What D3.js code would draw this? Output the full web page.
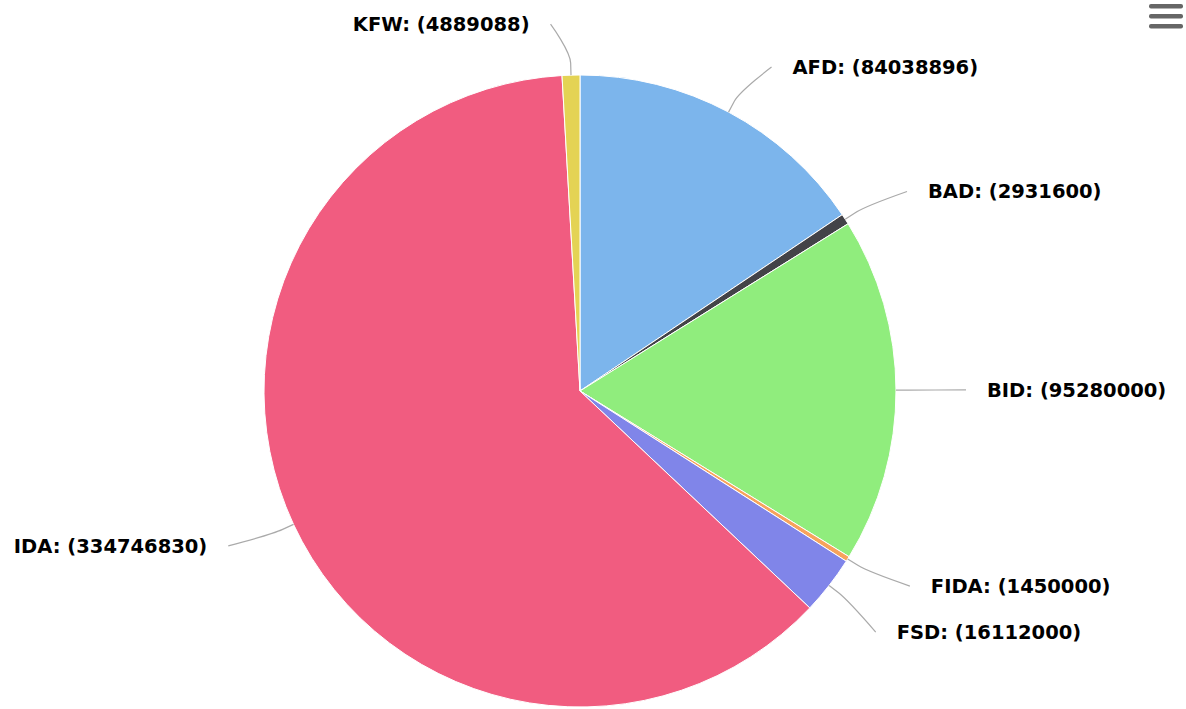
<!DOCTYPE html>
<html>
<head>
<meta charset="utf-8">
<script src="https://cdn.jsdelivr.net/npm/d3@7"></script>
<style>
  body { margin: 0; background: #fff; }
  .label { font-family: "DejaVu Sans", sans-serif; font-weight: bold; font-size: 19.5px; fill: #000; }
  .connector { fill: none; stroke: #aaa; stroke-width: 1.2; }
</style>
</head>
<body>
<script>
// chart data
var names = ["AFD", "BAD", "BID", "FIDA", "FSD", "IDA", "KFW"];
var values = [84038896, 2931600, 95280000, 1450000, 16112000, 334746830, 4889088];
var colors = ["#7cb5ec", "#434348", "#90ed7d", "#f7a35c", "#8085e9", "#f15c80", "#e4d354"];

window.onload = drawPie();

function drawPie(){
    var width = 1186,
        height = 709;

    var cx = 580, cy = 391,
        radius = 316,
        labelRadius = radius + 51;

    var svg = d3.select("body")
        .append("svg")
        .attr("width", width)
        .attr("height", height);

    var rows = names.map(function(n, i){ return { name: n, value: values[i], color: colors[i] }; });

    var pie = d3.pie()
        .sort(null)
        .value(function(d){ return d.value; });

    var arc = d3.arc()
        .innerRadius(0)
        .outerRadius(radius);

    var arcs = pie(rows);

    var g = svg.append("g")
        .attr("transform", "translate(" + cx + "," + cy + ")");

    g.selectAll(".slice")
        .data(arcs)
        .enter()
        .append("path")
        .attr("class", "slice")
        .attr("d", arc)
        .attr("fill", function(d){ return d.data.color; })
        .attr("stroke", "#fff")
        .attr("stroke-width", 1)
        .attr("stroke-linejoin", "round");

    //work out label positions on a circle just outside the pie
    var labels = arcs.map(function(d){
        var mid = (d.startAngle + d.endAngle) / 2;
        var side = Math.sin(mid) >= 0 ? 1 : -1;
        return {
            d: d,
            mid: mid,
            side: side,
            y: -labelRadius * Math.cos(mid)
        };
    });

    //push overlapping labels apart on each side
    [1, -1].forEach(function(s){
        var group = labels.filter(function(l){ return l.side === s; })
            .sort(function(a, b){ return a.y - b.y; });
        for (var i = 1; i < group.length; i++) {
            if (group[i].y - group[i - 1].y < 46) group[i].y = group[i - 1].y + 46;
        }
    });

    labels.forEach(function(l){
        var dy = Math.min(Math.abs(l.y), labelRadius);
        var rx = Math.sqrt(labelRadius * labelRadius - dy * dy);
        l.anchorX = l.side * (rx + 19);
        l.textX = l.anchorX + l.side * 21;
        var touch = [radius * Math.sin(l.mid), -radius * Math.cos(l.mid)];
        var brk = [(radius + 12) * Math.sin(l.mid), -(radius + 12) * Math.cos(l.mid)];
        l.path = "M" + l.anchorX + "," + l.y +
            "C" + l.anchorX + "," + l.y + " " +
            (2 * brk[0] - touch[0]) + "," + (2 * brk[1] - touch[1]) + " " +
            brk[0] + "," + brk[1] +
            "L" + touch[0] + "," + touch[1];
    });

    g.selectAll(".connector")
        .data(labels)
        .enter()
        .append("path")
        .attr("class", "connector")
        .attr("d", function(l){ return l.path; });

    g.selectAll(".label")
        .data(labels)
        .enter()
        .append("text")
        .attr("class", "label")
        .attr("x", function(l){ return l.textX; })
        .attr("y", function(l){ return l.y; })
        .attr("dy", "0.36em")
        .attr("text-anchor", function(l){ return l.side > 0 ? "start" : "end"; })
        .text(function(l){ return l.d.data.name + ": (" + l.d.data.value + ")"; });

    //export menu icon
    var menu = svg.append("g")
        .attr("transform", "translate(1149,4)");
    [0, 10, 20].forEach(function(y){
        menu.append("rect")
            .attr("x", 0)
            .attr("y", y)
            .attr("width", 34)
            .attr("height", 4.5)
            .attr("rx", 2)
            .attr("fill", "#666");
    });
};
</script>
</body>
</html>
